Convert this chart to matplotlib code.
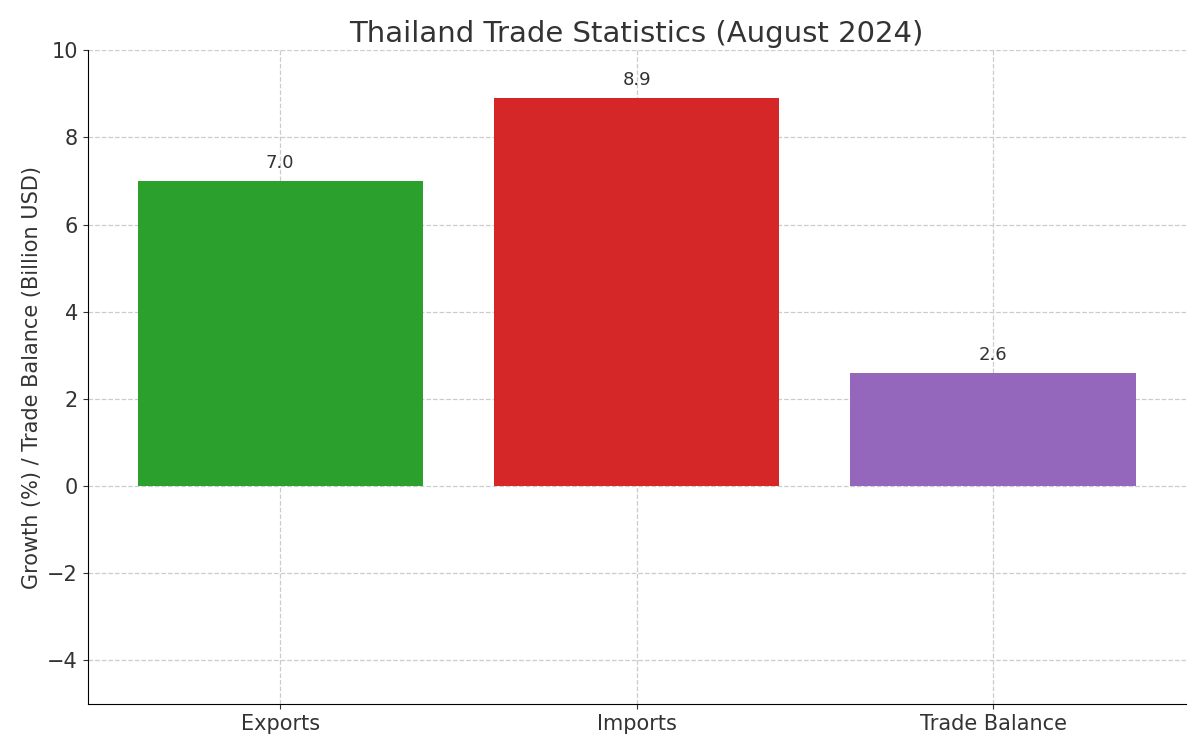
import matplotlib.pyplot as plt

categories = ["Exports", "Imports", "Trade Balance"]
values = [7.0, 8.9, 2.6]
colors = ["#2ca02c", "#d62728", "#9467bd"]

fig, ax = plt.subplots(figsize=(12, 7.49), dpi=100)
fig.subplots_adjust(left=0.073, right=0.988, top=0.933, bottom=0.06)

bars = ax.bar(categories, values, color=colors, width=0.8)
for b, v in zip(bars, values):
    ax.text(b.get_x() + b.get_width() / 2, v + 0.2, f"{v:.1f}",
            ha="center", va="bottom", fontsize=13, color="#333333")

ax.set_ylim(-5, 10)
ax.set_title("Thailand Trade Statistics (August 2024)", fontsize=21, color="#333333")
ax.set_ylabel("Growth (%) / Trade Balance (Billion USD)", fontsize=15, color="#333333")
ax.tick_params(labelsize=15, colors="#333333")
ax.grid(True, linestyle="--", color="#cccccc", linewidth=0.9)
ax.set_axisbelow(True)
for s in ["top", "right"]:
    ax.spines[s].set_visible(False)

fig.savefig("out.png", dpi=100)
